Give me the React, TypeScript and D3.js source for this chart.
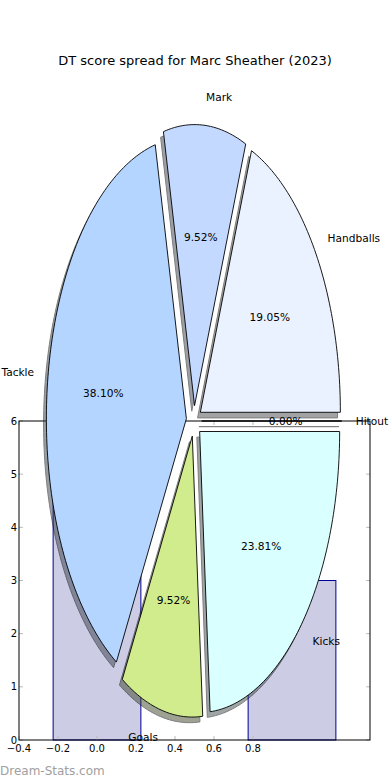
import React from 'react'
import * as d3 from 'd3'

// pie data (counter-clockwise from 3 o'clock, like matplotlib)
const sliceLabels = ['Handballs', 'Mark', 'Tackle', 'Goals', 'Kicks', 'Hitout']
const sliceValues = [4, 2, 8, 2, 5, 0]
const sliceColors = ['#ebf2ff', '#c3d9ff', '#b3d5ff', '#d1ec8c', '#daffff', '#ffffff']

// bar chart underneath
const barPositions = [0, 1]
const barValues = [6, 3]
const xTicks = [-0.4, -0.2, 0.0, 0.2, 0.4, 0.6, 0.8]
const yTicks = [0, 1, 2, 3, 4, 5, 6]

const title = 'DT score spread for Marc Sheather (2023)'

const W = 390, H = 780
const font = 'DejaVu Sans, sans-serif'

export default function App() {
    // bar axes
    const x = d3.scaleLinear().domain([-0.4, 1.4]).range([19, 370])
    const y = d3.scaleLinear().domain([0, 6]).range([740, 421])
    const barW = 0.45

    // pie axes: unit circle stretched (aspect not equal)
    const px = d3.scaleLinear().domain([0, 1]).range([194, 334])
    const py = d3.scaleLinear().domain([0, 1]).range([421, 140])
    const explode = 0.055
    const shadowOff = -0.02

    const pie = d3.pie<number>().sort(null).startAngle(0).endAngle(2 * Math.PI)
    const arcs = pie(sliceValues)
    const total = d3.sum(sliceValues)

    const line = d3.line<[number, number]>()

    const wedge = (a: d3.PieArcDatum<number>, dx: number, dy: number) => {
        const m = (a.startAngle + a.endAngle) / 2
        const ox = explode * Math.cos(m) + dx
        const oy = explode * Math.sin(m) + dy
        const pts: [number, number][] = [[px(ox), py(oy)]]
        const n = Math.max(2, Math.ceil((a.endAngle - a.startAngle) / 0.02))
        for (let i = 0; i <= n; i++) {
            const t = a.startAngle + (a.endAngle - a.startAngle) * i / n
            pts.push([px(ox + Math.cos(t)), py(oy + Math.sin(t))])
        }
        return line(pts) + 'Z'
    }

    const shade = (c: string) => {
        const col = d3.rgb(c)
        return d3.rgb(col.r * 0.3, col.g * 0.3, col.b * 0.3).toString()
    }

    return (
        <svg width={W} height={H} style={{ position: 'absolute', left: 0, top: 0 }}
            fontFamily={font}>
            <rect width={W} height={H} fill="#fff" />

            {/* bars */}
            {barPositions.map((b, i) => (
                <rect key={i} x={x(b - barW / 2)} y={y(barValues[i])}
                    width={x(b + barW / 2) - x(b - barW / 2)} height={y(0) - y(barValues[i])}
                    fill="#cccce5" stroke="#000099" strokeWidth={1} />
            ))}

            {/* ticks */}
            {xTicks.map((t, i) => (
                <g key={'x' + i}>
                    <line x1={x(t)} x2={x(t)} y1={y(0)} y2={y(0) - 4} stroke="#bbb" />
                    <line x1={x(t)} x2={x(t)} y1={y(6)} y2={y(6) + 4} stroke="#bbb" />
                    <text x={x(t)} y={y(0) + 12} fontSize={10} textAnchor="middle">
                        {d3.format('.1f')(t).replace('-', '\u2212')}
                    </text>
                </g>
            ))}
            {yTicks.map((t, i) => (
                <g key={'y' + i}>
                    <line x1={x(-0.4)} x2={x(-0.4) + 4} y1={y(t)} y2={y(t)} stroke="#bbb" />
                    <line x1={x(1.4)} x2={x(1.4) - 4} y1={y(t)} y2={y(t)} stroke="#bbb" />
                    <text x={x(-0.4) - 2} y={y(t)} dy="0.35em" fontSize={10} textAnchor="end">{t}</text>
                </g>
            ))}
            <rect x={x(-0.4)} y={y(6)} width={x(1.4) - x(-0.4)} height={y(0) - y(6)}
                fill="none" stroke="#000" strokeWidth={1} />

            {/* pie shadows */}
            {arcs.map((a, i) => (
                <path key={'s' + i} d={wedge(a, shadowOff, shadowOff)}
                    fill={shade(sliceColors[i])} stroke={shade('#000')}
                    opacity={0.5} />
            ))}
            {/* wedges */}
            {arcs.map((a, i) => (
                <path key={'w' + i} d={wedge(a, 0, 0)} fill={sliceColors[i]}
                    stroke="#000" strokeWidth={0.9} />
            ))}
            {/* labels */}
            {arcs.map((a, i) => {
                const m = (a.startAngle + a.endAngle) / 2
                const ex = explode * Math.cos(m), ey = explode * Math.sin(m)
                const lx = ex + 1.1 * Math.cos(m), ly = ey + 1.1 * Math.sin(m)
                const tx = ex + 0.6 * Math.cos(m), ty = ey + 0.6 * Math.sin(m)
                return (
                    <g key={'l' + i} fontSize={10.6}>
                        <text x={px(lx)} y={py(ly)} dy="0.35em"
                            textAnchor={Math.cos(m) >= 0 ? 'start' : 'end'}>{sliceLabels[i]}</text>
                        <text x={px(tx)} y={py(ty)} dy="0.35em" textAnchor="middle">
                            {(sliceValues[i] / total * 100).toFixed(2)}%
                        </text>
                    </g>
                )
            })}

            <text x={195} y={65} fontSize={13} textAnchor="middle">{title}</text>
            <text x={0} y={775} fontSize={12} fill="#a0a0a0">Dream-Stats.com</text>
        </svg>
    )
}
